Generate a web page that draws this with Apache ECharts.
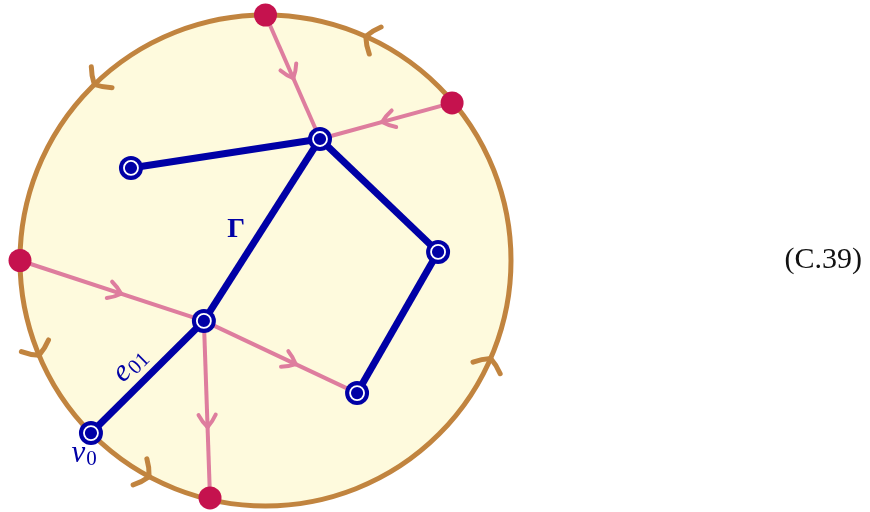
<!DOCTYPE html>
<html><head><meta charset="utf-8">
<script src="https://cdn.jsdelivr.net/npm/echarts@6/dist/echarts.min.js"></script>
<style>html,body{margin:0;padding:0;background:#fff}#c{width:870px;height:512px}</style>
</head><body><div id="c"></div>
<script>
// ---- diagram data (units: disc radius = 10, centre at origin) ----
const discCenter = [0, 0];
const discRadius = 10;
const boundaryPoints = [[0.00, 10.00], [7.60, 6.42], [-10.00, 0.00], [-2.26, -9.67]];
const vertexPoints = [[2.22, 4.95], [-5.48, 3.77], [7.03, 0.35], [-2.51, -2.46], [3.73, -5.40], [-7.11, -7.03]];
const graphEdgeFrom = [1, 0, 0, 2, 3];
const graphEdgeTo   = [0, 3, 2, 4, 5];
// flow (pink) edges: 'p' = boundary point, 'v' = vertex
const flowFrom = ['p0', 'p1', 'p2', 'v3', 'v3'];
const flowTo   = ['v0', 'v0', 'v3', 'v4', 'p3'];
const flowArrowAt = [0.51, 0.53, 0.55, 0.60, 0.60];
const circleArrowAngles = [65.9, 134.2, 202.7, 241.7, 336.5];
const labelBase = ['Γ', 'e', 'v'];
const labelSub  = ['', '01', '0'];
const labelPos  = [[-1.20, 1.24], [-5.56, -4.40], [-7.30, -7.96]];
const labelAngle = [0, 45, 0];
const equationTag = '(C.39)';

// ---- styles ----
const C_FILL = '#FEFADD', C_RIM = '#C1843F', C_FLOW = '#DE7D9E', C_DOT = '#C5124E', C_BLUE = '#0000A6';

function resolve(ref) {
  const i = +ref.slice(1);
  return ref[0] === 'p' ? boundaryPoints[i] : vertexPoints[i];
}
// curved barbs: angle (deg) from backward direction, slight bow
function arrowHead(tip, dir, L, angDeg, bow, color, lw) {
  const n = [-dir[1], dir[0]];
  const th = angDeg * Math.PI / 180;
  const out = [];
  [1, -1].forEach(s => {
    const bx = -Math.cos(th), by = Math.sin(th) * s; // in (dir, n) frame
    const end = [tip[0] + (dir[0] * bx + n[0] * by) * L, tip[1] + (dir[1] * bx + n[1] * by) * L];
    const px = Math.sin(th), py = Math.cos(th) * s; // perpendicular to chord pointing away
    const mx = bx * 0.5 + px * bow, my = by * 0.5 + py * bow;
    const cp = [tip[0] + (dir[0] * mx + n[0] * my) * L, tip[1] + (dir[1] * mx + n[1] * my) * L];
    out.push({ type: 'bezierCurve', shape: { x1: tip[0], y1: tip[1], x2: end[0], y2: end[1], cpx1: cp[0], cpy1: cp[1] },
      style: { stroke: color, lineWidth: lw, fill: null, lineCap: 'round' } });
  });
  return out;
}
function unit(a, b) { const dx = b[0] - a[0], dy = b[1] - a[1], l = Math.hypot(dx, dy); return [dx / l, dy / l]; }

const flowData = flowFrom.map((f, i) => [...resolve(f), ...resolve(flowTo[i]), flowArrowAt[i]]);
const edgeData = graphEdgeFrom.map((f, i) => [...vertexPoints[f], ...vertexPoints[graphEdgeTo[i]]]);

const chart = echarts.init(document.getElementById('c'), null, { renderer: 'canvas' });
chart.setOption({
  animation: false,
  backgroundColor: '#ffffff',
  grid: { left: 20, top: 15, width: 491, height: 491 },
  xAxis: { type: 'value', min: -10, max: 10, show: false },
  yAxis: { type: 'value', min: -10, max: 10, show: false },
  title: { text: equationTag, right: 3, top: 240, textStyle: { fontFamily: 'Liberation Serif', fontSize: 30, fontWeight: 'normal', color: '#111' } },
  series: [
    { // disc with orientation arrows
      type: 'custom', z: 1, clip: false,
      data: [[discCenter[0], discCenter[1], discRadius]],
      renderItem(params, api) {
        const c = api.coord([api.value(0), api.value(1)]);
        const R = api.value(2);
        const r = api.size([R, 0])[0];
        const children = [{ type: 'circle', shape: { cx: c[0], cy: c[1], r }, style: { fill: C_FILL, stroke: C_RIM, lineWidth: 5 } }];
        circleArrowAngles.forEach(a => {
          const t = a * Math.PI / 180, t2 = (a + 1) * Math.PI / 180;
          const tip = api.coord([R * Math.cos(t), R * Math.sin(t)]);
          const ahead = api.coord([R * Math.cos(t2), R * Math.sin(t2)]);
          children.push(...arrowHead(tip, unit(tip, ahead), 18, 55, 0.08, C_RIM, 5));
        });
        return { type: 'group', children };
      }
    },
    { // flow edges with arrows
      type: 'custom', z: 2, clip: false, data: flowData,
      renderItem(params, api) {
        const a = api.coord([api.value(0), api.value(1)]);
        const b = api.coord([api.value(2), api.value(3)]);
        const f = api.value(4);
        const d = unit(a, b);
        const tip = [a[0] + (b[0] - a[0]) * f, a[1] + (b[1] - a[1]) * f];
        return { type: 'group', children: [
          { type: 'line', shape: { x1: a[0], y1: a[1], x2: b[0], y2: b[1] }, style: { stroke: C_FLOW, lineWidth: 4 } },
          ...arrowHead(tip, d, 15, 35, 0.08, C_FLOW, 4)
        ] };
      }
    },
    { // graph edges
      type: 'custom', z: 3, clip: false, data: edgeData,
      renderItem(params, api) {
        const a = api.coord([api.value(0), api.value(1)]);
        const b = api.coord([api.value(2), api.value(3)]);
        return { type: 'line', shape: { x1: a[0], y1: a[1], x2: b[0], y2: b[1] }, style: { stroke: C_BLUE, lineWidth: 7 } };
      }
    },
    { // boundary points
      type: 'scatter', z: 4, clip: false, symbol: 'circle', symbolSize: 23,
      itemStyle: { color: C_DOT, opacity: 1 }, data: boundaryPoints, silent: true
    },
    { // vertices
      type: 'custom', z: 5, clip: false, data: vertexPoints,
      renderItem(params, api) {
        const c = api.coord([api.value(0), api.value(1)]);
        return { type: 'group', children: [
          { type: 'circle', shape: { cx: c[0], cy: c[1], r: 12 }, style: { fill: C_BLUE } },
          { type: 'circle', shape: { cx: c[0], cy: c[1], r: 7 }, style: { fill: C_BLUE, stroke: '#ffffff', lineWidth: 1.8 } }
        ] };
      }
    },
    { // labels
      type: 'custom', z: 6, clip: false, data: labelPos.map((p, i) => [p[0], p[1], i]),
      renderItem(params, api) {
        const c = api.coord([api.value(0), api.value(1)]);
        const i = api.value(2);
        const children = [];
        if (i === 0) {
          children.push({ type: 'text', x: 0, y: 0, style: { text: labelBase[i], fill: C_BLUE, font: 'bold 28px "Liberation Serif"', textAlign: 'center', textVerticalAlign: 'middle' } });
        } else {
          children.push({ type: 'text', x: -1, y: -2, style: { text: labelBase[i], fill: C_BLUE, font: 'italic 31px "Liberation Serif"', textAlign: 'right', textVerticalAlign: 'middle' } });
          children.push({ type: 'text', x: 0, y: 4, style: { text: labelSub[i], fill: C_BLUE, font: '21px "Liberation Serif"', textAlign: 'left', textVerticalAlign: 'middle' } });
        }
        return { type: 'group', x: c[0], y: c[1], rotation: labelAngle[i] * Math.PI / 180, children };
      }
    }
  ]
});
</script></body></html>
